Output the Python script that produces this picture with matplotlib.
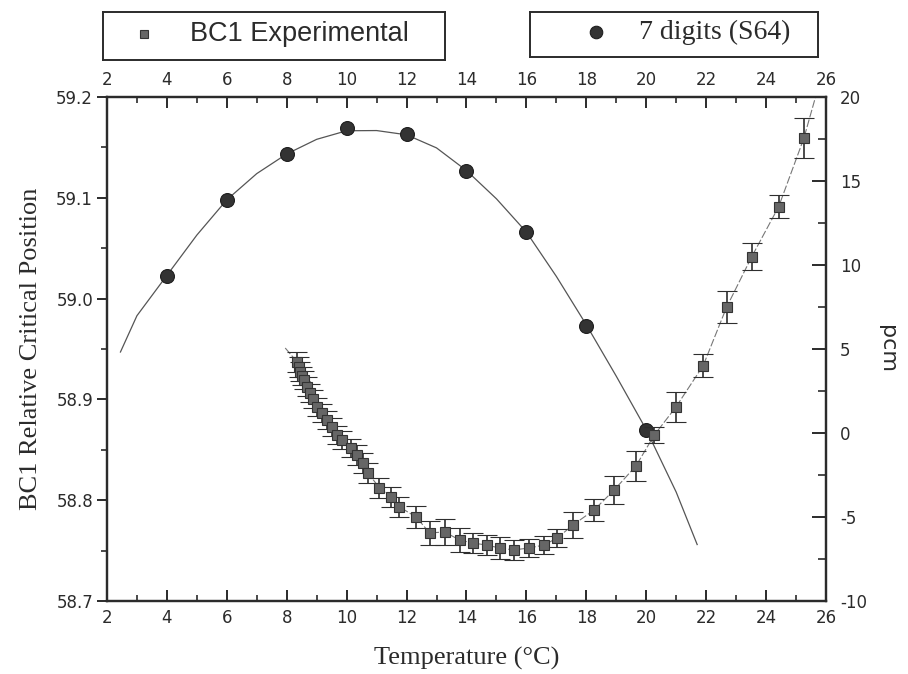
import numpy as np
import matplotlib
matplotlib.use('Agg')
import matplotlib.pyplot as plt
from matplotlib.ticker import MultipleLocator

plt.rcParams['axes.unicode_minus'] = False

# experimental BC1 points (temperature degC, pcm, error pcm)
t_exp = [8.34, 8.40, 8.45, 8.51, 8.56, 8.68, 8.77, 8.88, 9.02, 9.18, 9.35, 9.52, 9.69, 9.86,
         10.13, 10.36, 10.53, 10.72, 11.09, 11.48, 11.76, 12.32, 12.77, 13.27, 13.77, 14.22,
         14.67, 15.12, 15.57, 16.07, 16.58, 17.03, 17.55, 18.26, 18.93, 19.66, 20.27, 21.00,
         21.90, 22.68, 23.52, 24.42, 25.26]
pcm_exp = [4.24, 3.95, 3.65, 3.39, 3.16, 2.76, 2.38, 2.02, 1.56, 1.19, 0.77, 0.36, -0.12, -0.42,
           -0.89, -1.31, -1.79, -2.38, -3.27, -3.81, -4.40, -5.00, -5.95, -5.89, -6.37, -6.55,
           -6.67, -6.85, -6.96, -6.85, -6.67, -6.25, -5.48, -4.58, -3.39, -1.95, -0.12, 1.57,
           4.01, 7.48, 10.49, 13.47, 17.54]
err_exp = [0.6, 0.6, 0.55, 0.55, 0.55, 0.55, 0.55, 0.55, 0.55, 0.55, 0.55, 0.55, 0.55, 0.55,
           0.55, 0.6, 0.6, 0.6, 0.6, 0.6, 0.6, 0.65, 0.7, 0.75, 0.7, 0.6,
           0.6, 0.65, 0.6, 0.55, 0.55, 0.55, 0.75, 0.65, 0.83, 0.9, 0.5, 0.9,
           0.7, 0.95, 0.8, 0.7, 1.2]
# line through experimental points, with its ends
t_exp_line = [7.95] + t_exp + [25.65]
pcm_exp_line = [5.06] + pcm_exp + [20.0]

# 7 digits (S64) calculation
t_calc = [4, 6, 8, 10, 12, 14, 16, 18, 20]
pos_calc = [59.0227, 59.0978, 59.1435, 59.1689, 59.1630, 59.1269, 59.0661, 58.9728, 58.8696]
# fitted curve
t_fit = [2.45, 3, 4, 5, 6, 7, 8, 9, 10, 11, 12, 13, 14, 15, 16, 17, 18, 19, 20, 21, 21.7]
pos_fit = [58.947, 58.983, 59.023, 59.063, 59.098, 59.124, 59.1435, 59.158, 59.1665, 59.1667,
           59.1625, 59.1495, 59.127, 59.099, 59.066, 59.022, 58.974, 58.923, 58.870, 58.808, 58.756]

fs_tick = 12
dark = '#2b2b2b'

fig = plt.figure(figsize=(9.08, 6.74), dpi=100)
ax = fig.add_axes([0.1178, 0.1083, 0.7919, 0.7478])
ax2 = ax.twinx()

ax.set_xlim(2, 26)
ax.set_ylim(58.7, 59.2)
ax2.set_ylim(-10, 20)

# calculation curve + points (left axis)
ax.plot(t_fit, pos_fit, color='#555555', lw=0.9, zorder=2)
ax.plot(t_calc, pos_calc, 'o', ms=10, color='#333333', mec='#1e1e1e', mew=0.8, zorder=3)

# experimental (right axis, pcm)
ax2.plot(t_exp_line, pcm_exp_line, color='#777777', lw=0.8, ls=(0, (7, 2)), zorder=2)
ax2.errorbar(t_exp, pcm_exp, yerr=err_exp, fmt='s', ms=7, color='#666666', mec='#333333',
             mew=0.8, ecolor='#2e2e2e', elinewidth=1.2, capsize=7, capthick=1.0, zorder=3)

# ticks
ax.xaxis.set_major_locator(MultipleLocator(2))
ax.xaxis.set_minor_locator(MultipleLocator(1))
ax.yaxis.set_minor_locator(MultipleLocator(0.05))
ax.set_yticks([58.7, 58.8, 58.9, 59.0, 59.1, 59.2])
ax.set_yticklabels(['58.7', '58.8', '58.9', '59.0', '59.1', '59.2'])
ax2.yaxis.set_major_locator(MultipleLocator(5))
ax2.yaxis.set_minor_locator(MultipleLocator(2.5))

ax.tick_params(axis='x', which='both', top=True, labeltop=True, direction='in',
               labelsize=fs_tick, colors=dark, pad=6)
ax.tick_params(axis='x', which='major', length=8, width=1.4)
ax.tick_params(axis='x', which='minor', length=4, width=1.2)
ax.tick_params(axis='y', which='both', direction='out', labelsize=fs_tick, colors=dark, pad=3)
ax.tick_params(axis='y', which='major', length=7, width=1.4)
ax.tick_params(axis='y', which='minor', length=4, width=1.2)
ax2.tick_params(axis='y', which='both', direction='in', labelsize=fs_tick, colors=dark, pad=10)
ax2.tick_params(axis='y', which='major', length=10, width=1.4)
ax2.tick_params(axis='y', which='minor', length=6, width=1.2)

for a in (ax, ax2):
    for s in a.spines.values():
        s.set_linewidth(1.6)
        s.set_color(dark)

ax.set_xlabel('Temperature (°C)', family='Liberation Serif', fontsize=19, color=dark, labelpad=14)
ax.set_ylabel('BC1 Relative Critical Position', family='Liberation Serif', fontsize=19,
              color=dark, labelpad=10)
ax2.set_ylabel('pcm', fontsize=16, color=dark, rotation=270, labelpad=22)

# legend boxes on top
lg1 = fig.add_axes([0.1134, 0.911, 0.3767, 0.0712])
lg1.set_xlim(0, 1); lg1.set_ylim(0, 1)
lg1.set_xticks([]); lg1.set_yticks([])
lg1.plot([0.12], [0.55], 's', ms=6, color='#666666', mec='#333333', mew=0.8)
lg1.text(0.255, 0.55, 'BC1 Experimental', fontsize=19.5, color=dark, va='center', ha='left',
         family='Liberation Sans')

lg2 = fig.add_axes([0.5837, 0.9154, 0.3172, 0.0668])
lg2.set_xlim(0, 1); lg2.set_ylim(0, 1)
lg2.set_xticks([]); lg2.set_yticks([])
lg2.plot([0.23], [0.55], 'o', ms=9, color='#333333', mec='#1e1e1e', mew=0.8)
lg2.text(0.38, 0.55, '7 digits (S64)', fontsize=20, color=dark, va='center', ha='left',
         family='Liberation Serif')
for a in (lg1, lg2):
    for s in a.spines.values():
        s.set_linewidth(1.4)
        s.set_color(dark)

fig.savefig('out.png', dpi=100)
